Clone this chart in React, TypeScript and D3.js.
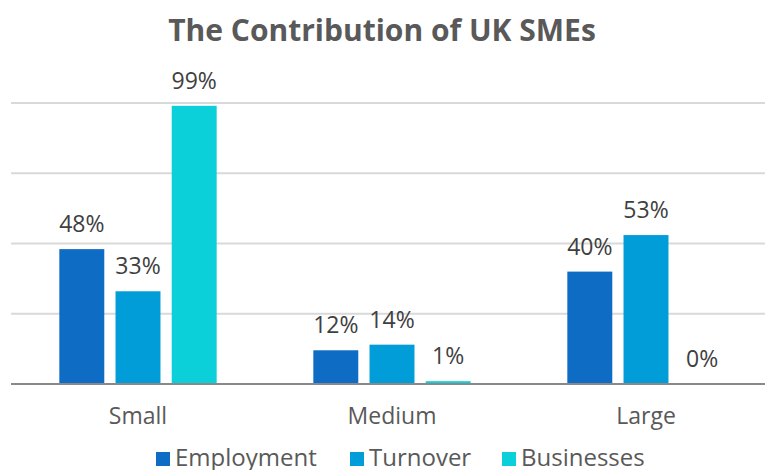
import * as d3 from 'd3'

const categories = ['Small', 'Medium', 'Large']
const seriesNames = ['Employment', 'Turnover', 'Businesses']
const employment = [48, 12, 40]
const turnover = [33, 14, 53]
const businesses = [99, 1, 0]
const yTicks = [0, 25, 50, 75, 100]

const colors = ['#0e6cc4', '#009dd9', '#0bd0d9']
const font = "'Open Sans', 'Liberation Sans', sans-serif"

export default function App() {
  const width = 765
  const height = 470
  const series = [employment, turnover, businesses]

  const x = d3.scaleBand().domain(categories).range([11, 773]).paddingInner(0).paddingOuter(0)
  const inner = d3
    .scaleBand()
    .domain(seriesNames)
    .range([0, x.bandwidth()])
    .paddingInner(0.2)
    .paddingOuter(0.86)
  const y = d3.scaleLinear().domain([0, 100]).range([384, 103])

  const legendX = [156, 350, 502]

  return (
    <svg
      width={width}
      height={height}
      style={{ position: 'absolute', left: 0, top: 0, background: '#fff' }}
      fontFamily={font}
    >
      <text x={382} y={41} textAnchor="middle" fontSize={30} fontWeight="bold" fill="#595959">
        The Contribution of UK SMEs
      </text>

      {yTicks.slice(1).map(t => (
        <line key={t} x1={11} x2={width} y1={y(t)} y2={y(t)} stroke="#d9d9d9" strokeWidth={2} />
      ))}

      {categories.map((c, ci) => (
        <g key={c}>
          {series.map((s, si) => {
            const bx = (x(c) ?? 0) + (inner(seriesNames[si]) ?? 0)
            const v = s[ci]
            return (
              <g key={si}>
                <rect
                  x={bx}
                  y={y(v)}
                  width={inner.bandwidth()}
                  height={y(0) - y(v)}
                  fill={colors[si]}
                />
                <text
                  x={bx + inner.bandwidth() / 2}
                  y={y(v) - 17}
                  textAnchor="middle"
                  fontSize={23}
                  fill="#404040"
                >
                  {v}%
                </text>
              </g>
            )
          })}
          <text
            x={(x(c) ?? 0) + x.bandwidth() / 2}
            y={424}
            textAnchor="middle"
            fontSize={23}
            fill="#595959"
          >
            {c}
          </text>
        </g>
      ))}

      <line x1={11} x2={width} y1={y(0)} y2={y(0)} stroke="#898989" strokeWidth={2} />

      {seriesNames.map((n, i) => (
        <g key={n} transform={`translate(${legendX[i]},0)`}>
          <rect x={0} y={452} width={14} height={14} fill={colors[i]} />
          <text x={19} y={466} fontSize={24} fill="#595959">
            {n}
          </text>
        </g>
      ))}
    </svg>
  )
}
